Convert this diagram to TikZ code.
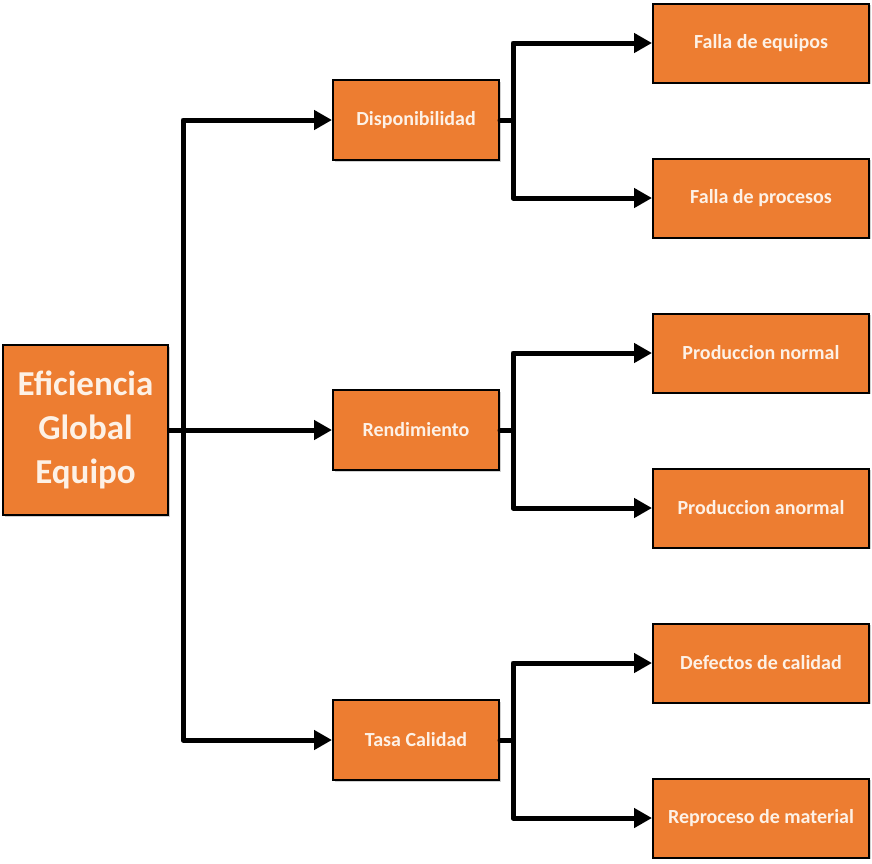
\documentclass[tikz,border=0pt]{standalone}
\usepackage{fontspec}
\setmainfont{Carlito}
\usetikzlibrary{arrows.meta,shadows}
\definecolor{boxorange}{HTML}{ED7D31}
\definecolor{boxtext}{HTML}{FDF1E6}
\tikzset{
  box/.style={draw=black, line width=2pt, fill=boxorange, text=boxtext,
    font=\bfseries\fontsize{20}{24}\selectfont, align=center, inner sep=0pt,
    drop shadow={shadow xshift=1.5pt, shadow yshift=-1.5pt, fill=black!30, opacity=0.6}},
  midbox/.style={box, minimum width=166pt, minimum height=80pt},
  leafbox/.style={box, minimum width=216pt, minimum height=79pt},
  rootbox/.style={box, minimum width=165pt, minimum height=170pt,
    font=\bfseries\fontsize{35}{44}\selectfont},
  link/.style={line width=5pt, line join=round, -{Triangle[length=18pt,width=19pt]}},
  plain/.style={line width=5pt, line join=round, line cap=round},
}
\begin{document}
\begin{tikzpicture}[x=1pt,y=-1pt]
\useasboundingbox (0,0) rectangle (872,863);
% main concept
\node[rootbox] (root) at (85.5,430) {Eficiencia\\Global\\Equipo};
% three factors
\node[midbox] (disp) at (416,120) {Disponibilidad};
\node[midbox] (rend) at (416,430) {Rendimiento};
\node[midbox] (tasa) at (416,740) {Tasa Calidad};
% losses per factor
\node[leafbox] (f1) at (761,43) {Falla de equipos};
\node[leafbox] (f2) at (761,198) {Falla de procesos};
\node[leafbox] (p1) at (761,353) {Produccion normal};
\node[leafbox] (p2) at (761,508) {Produccion anormal};
\node[leafbox] (q1) at (761,663) {Defectos de calidad};
\node[leafbox] (q2) at (761,818) {Reproceso de material};
% trunk and branches
\coordinate (trunk) at (183,0);
\coordinate (split) at (513,0);
\draw[link] (root.east) -- (rend.west);
\draw[link] (trunk |- root.east) -- (trunk |- disp.west) -- (disp.west);
\draw[link] (trunk |- root.east) -- (trunk |- tasa.west) -- (tasa.west);
\foreach \m/\a/\b in {disp/f1/f2, rend/p1/p2, tasa/q1/q2}{
  \draw[plain] (\m.east) -- (split |- \m.east);
  \draw[link] (split |- \m.east) -- (split |- \a.west) -- (\a.west);
  \draw[link] (split |- \m.east) -- (split |- \b.west) -- (\b.west);
}
\end{tikzpicture}
\end{document}
